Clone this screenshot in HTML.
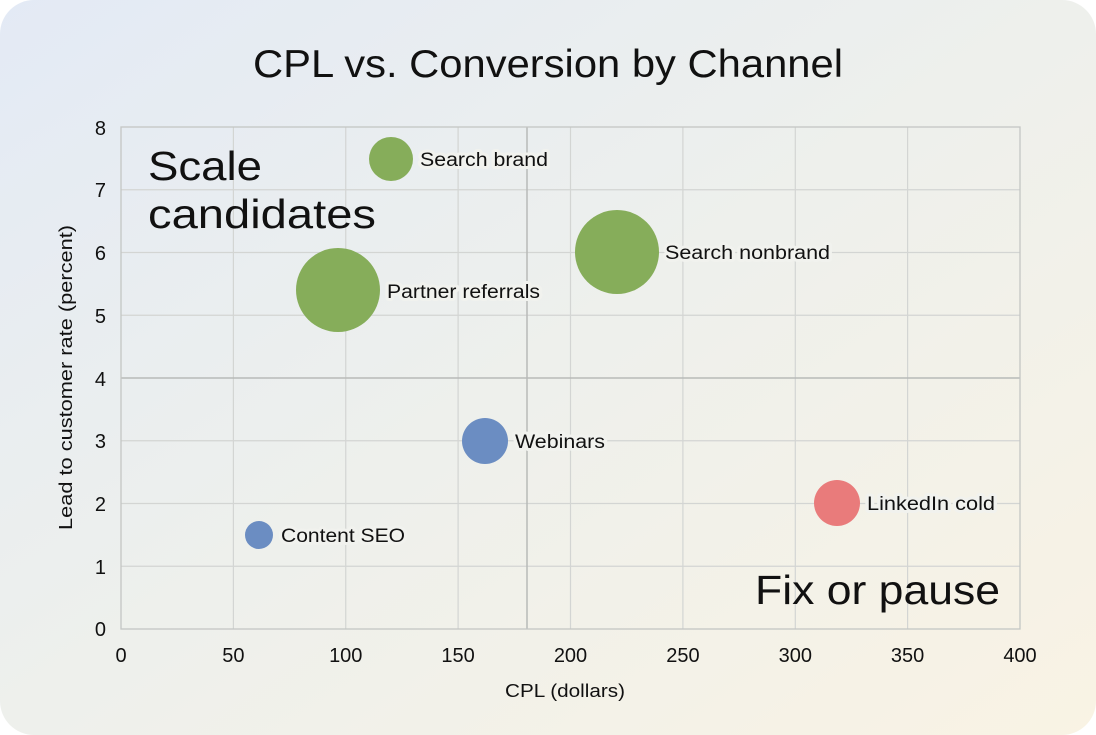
<!DOCTYPE html>
<html><head><style>
html,body{margin:0;padding:0;background:#fff;}
svg{display:block;}
text{font-family:"Liberation Sans",sans-serif;fill:#111;}
</style></head><body>
<svg width="1096" height="735" viewBox="0 0 1096 735">
<defs>
<linearGradient id="bg" x1="0" y1="0" x2="1" y2="1">
<stop offset="0" stop-color="#e3eaf5"/>
<stop offset="0.5" stop-color="#eef0ec"/>
<stop offset="1" stop-color="#f9f3e4"/>
</linearGradient>
</defs>
<rect x="0" y="0" width="1096" height="735" rx="34" fill="url(#bg)"/>
<text x="253" y="77" font-size="39" textLength="590" lengthAdjust="spacingAndGlyphs">CPL vs. Conversion by Channel</text>
<g stroke="#d3d5d3" stroke-width="1.2">
<line x1="233.4" y1="127" x2="233.4" y2="629"/><line x1="345.75" y1="127" x2="345.75" y2="629"/>
<line x1="458.1" y1="127" x2="458.1" y2="629"/><line x1="570.5" y1="127" x2="570.5" y2="629"/>
<line x1="682.9" y1="127" x2="682.9" y2="629"/><line x1="795.3" y1="127" x2="795.3" y2="629"/>
<line x1="907.6" y1="127" x2="907.6" y2="629"/>
<line x1="121" y1="189.75" x2="1020" y2="189.75"/><line x1="121" y1="252.5" x2="1020" y2="252.5"/>
<line x1="121" y1="315.25" x2="1020" y2="315.25"/><line x1="121" y1="440.75" x2="1020" y2="440.75"/>
<line x1="121" y1="503.5" x2="1020" y2="503.5"/><line x1="121" y1="566.25" x2="1020" y2="566.25"/>
</g>
<g stroke="#b8bab8" stroke-width="1.5">
<line x1="527" y1="127" x2="527" y2="629"/><line x1="121" y1="378" x2="1020" y2="378"/>
</g>
<rect x="121" y="127" width="899" height="502" fill="none" stroke="#c4c6c4" stroke-width="1.3"/>
<text x="148" y="180" font-size="41" textLength="114" lengthAdjust="spacingAndGlyphs">Scale</text>
<text x="148" y="228" font-size="41" textLength="228" lengthAdjust="spacingAndGlyphs">candidates</text>
<text x="755" y="604" font-size="41" textLength="245" lengthAdjust="spacingAndGlyphs">Fix or pause</text>
<g>
<circle cx="391" cy="159" r="22" fill="#86ad5a"/>
<circle cx="617" cy="252" r="42" fill="#86ad5a"/>
<circle cx="338" cy="290" r="42" fill="#86ad5a"/>
<circle cx="485" cy="441" r="23" fill="#6b8dc2"/>
<circle cx="259" cy="535" r="14" fill="#6b8dc2"/>
<circle cx="837" cy="503" r="23" fill="#e97b7b"/>
</g>
<g font-size="19" style="paint-order:stroke" stroke="#f1f2ee" stroke-width="6" stroke-linejoin="round" lengthAdjust="spacingAndGlyphs">
<text x="420" y="166" textLength="128" lengthAdjust="spacingAndGlyphs">Search brand</text>
<text x="665" y="259" textLength="165" lengthAdjust="spacingAndGlyphs">Search nonbrand</text>
<text x="387" y="298" textLength="153" lengthAdjust="spacingAndGlyphs">Partner referrals</text>
<text x="515" y="448" textLength="90" lengthAdjust="spacingAndGlyphs">Webinars</text>
<text x="281" y="542" textLength="124" lengthAdjust="spacingAndGlyphs">Content SEO</text>
<text x="867" y="510" textLength="128" lengthAdjust="spacingAndGlyphs">LinkedIn cold</text>
</g>
<g font-size="20" text-anchor="end">
<text x="106" y="135">8</text><text x="106" y="197">7</text><text x="106" y="260">6</text>
<text x="106" y="323">5</text><text x="106" y="386">4</text><text x="106" y="448">3</text>
<text x="106" y="511">2</text><text x="106" y="574">1</text><text x="106" y="636">0</text>
</g>
<g font-size="20" text-anchor="middle">
<text x="121" y="662">0</text><text x="233.4" y="662">50</text><text x="345.75" y="662">100</text>
<text x="458.1" y="662">150</text><text x="570.5" y="662">200</text><text x="682.9" y="662">250</text>
<text x="795.3" y="662">300</text><text x="907.6" y="662">350</text><text x="1020" y="662">400</text>
</g>
<text x="505" y="697" font-size="18" textLength="120" lengthAdjust="spacingAndGlyphs">CPL (dollars)</text>
<text transform="translate(72,530) rotate(-90)" font-size="18" textLength="305" lengthAdjust="spacingAndGlyphs">Lead to customer rate (percent)</text>
</svg>
</body></html>
